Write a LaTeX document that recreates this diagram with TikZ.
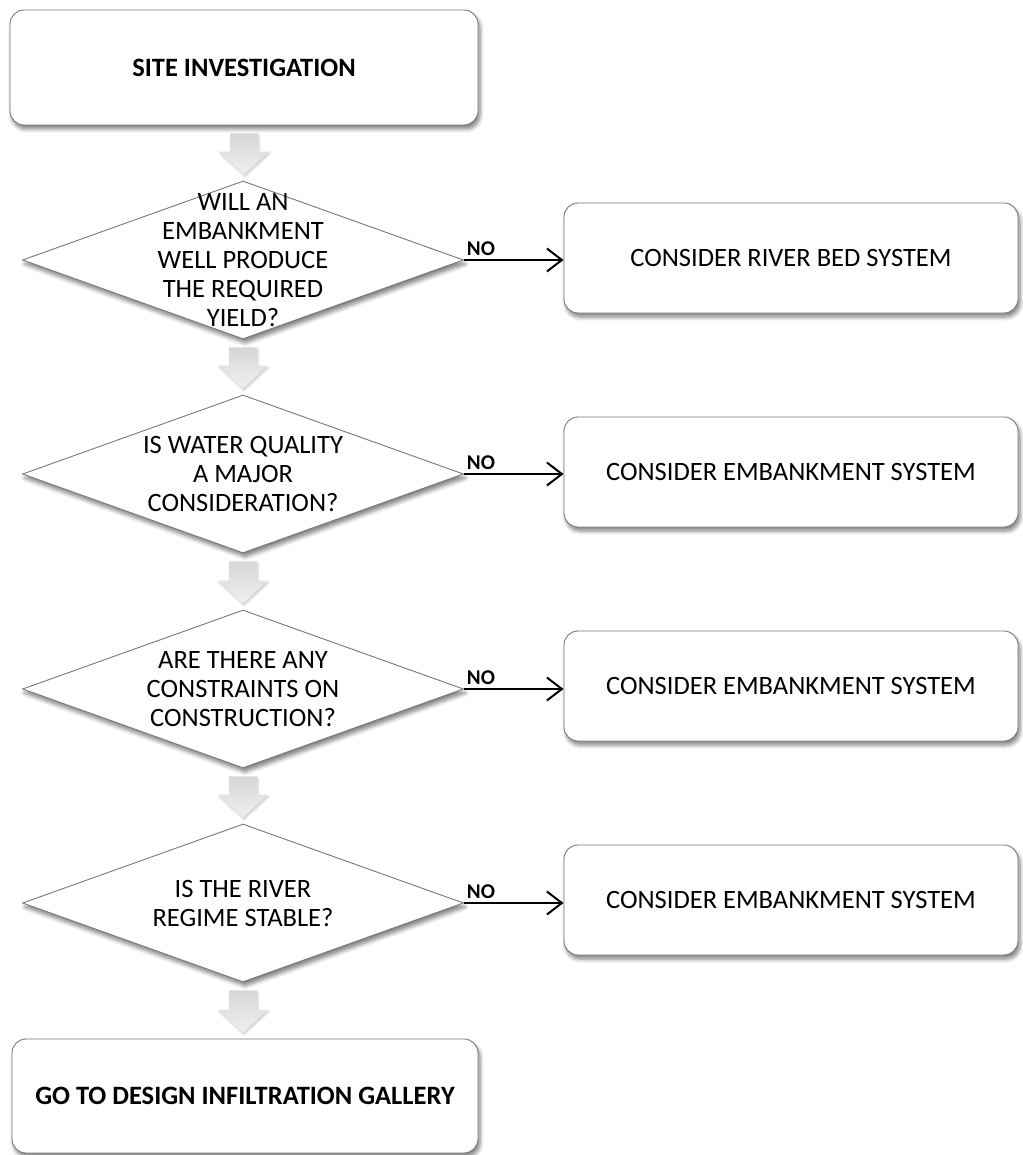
\documentclass[tikz,border=0pt]{standalone}
\usepackage{fontspec}
\setmainfont{Carlito}
\usetikzlibrary{shapes.geometric,shadows.blur,calc,arrows.meta}
\definecolor{edge}{RGB}{120,120,120}
\tikzset{
  softshadow/.style={blur shadow={shadow xshift=2pt,shadow yshift=-4pt,shadow blur steps=6,shadow blur radius=4pt,shadow opacity=50}},
  procbox/.style={draw=edge,line width=0.9pt,rounded corners=14pt,fill=white,softshadow,
    font=\fontsize{26.5}{29}\selectfont,align=center,inner sep=0pt},
  boldbox/.style={procbox,font=\fontsize{26.5}{29}\selectfont\bfseries},
  decision/.style={diamond,draw=edge,line width=0.9pt,fill=white,softshadow,
    minimum width=441pt,minimum height=158pt,inner sep=0pt},
  dtext/.style={font=\fontsize{26.5}{29}\selectfont,align=center,inner sep=0pt},
  noarrow/.style={draw=black,line width=2pt,-{Straight Barb[length=15pt,width=23pt,line width=2pt]}},
  nolabel/.style={font=\fontsize{21}{23}\selectfont\bfseries,anchor=south west,inner xsep=2pt,inner ysep=3pt},
  blockarrow/.style={draw=none,top color=gray!32,bottom color=gray!12,
    blur shadow={shadow xshift=1pt,shadow yshift=-2pt,shadow blur steps=4,shadow opacity=20}}
}
\newcommand{\downblock}[2]{%
  \path[blockarrow] let \p1=($(#1)+(0,8)$), \p2=($(#2)+(0,-6)$) in
    (\x1-14pt,\y1) -- (\x1+14pt,\y1) -- (\x1+14pt,\y2+23pt) -- (\x1+25pt,\y2+23pt)
    -- (\x1,\y2) -- (\x1-25pt,\y2+23pt) -- (\x1-14pt,\y2+23pt) -- cycle;}
\begin{document}
\begin{tikzpicture}[x=1pt,y=-1pt]
\useasboundingbox (0,0) rectangle (1022,1155);

\node[boldbox,minimum width=468pt,minimum height=115pt] (site) at (244,67.5) {SITE INVESTIGATION};

\node[decision,label={[dtext]center:{WILL AN\\EMBANKMENT\\WELL PRODUCE\\THE REQUIRED\\YIELD?}}] (d1) at (243,260) {};
\node[decision,label={[dtext]center:{IS WATER QUALITY\\A MAJOR\\CONSIDERATION?}}] (d2) at (243,474) {};
\node[decision,label={[dtext]center:{ARE THERE ANY\\CONSTRAINTS ON\\CONSTRUCTION?}}] (d3) at (243,689) {};
\node[decision,label={[dtext]center:{IS THE RIVER\\REGIME STABLE?}}] (d4) at (243,903) {};

\node[procbox,minimum width=454pt,minimum height=110pt] (r1) at (791,258) {CONSIDER RIVER BED SYSTEM};
\node[procbox,minimum width=454pt,minimum height=110pt] (r2) at (791,472) {CONSIDER EMBANKMENT SYSTEM};
\node[procbox,minimum width=454pt,minimum height=110pt] (r3) at (791,686) {CONSIDER EMBANKMENT SYSTEM};
\node[procbox,minimum width=454pt,minimum height=110pt] (r4) at (791,900) {CONSIDER EMBANKMENT SYSTEM};

\node[boldbox,minimum width=466pt,minimum height=114pt] (gallery) at (245,1096) {GO TO DESIGN INFILTRATION GALLERY};

\downblock{site.south}{d1.north}
\downblock{d1.south}{d2.north}
\downblock{d2.south}{d3.north}
\downblock{d3.south}{d4.north}
\downblock{d4.south}{gallery.north}

\draw[noarrow] (d1.east) node[nolabel]{NO} -- (d1.east -| r1.west);
\draw[noarrow] (d2.east) node[nolabel]{NO} -- (d2.east -| r2.west);
\draw[noarrow] (d3.east) node[nolabel]{NO} -- (d3.east -| r3.west);
\draw[noarrow] (d4.east) node[nolabel]{NO} -- (d4.east -| r4.west);
\end{tikzpicture}
\end{document}
